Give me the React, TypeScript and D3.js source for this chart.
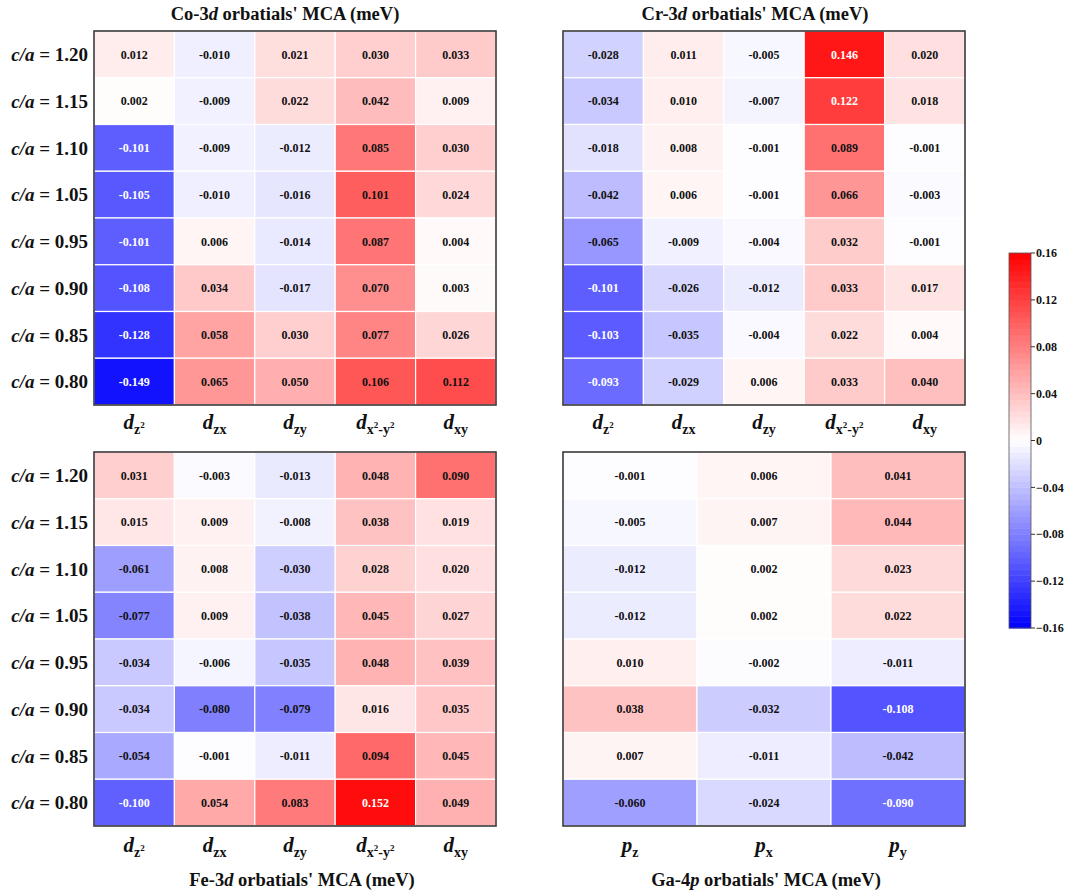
import React from "react";
import * as d3 from "d3";

const rowLabels = ["1.20", "1.15", "1.10", "1.05", "0.95", "0.90", "0.85", "0.80"];
const dOrbitals = ["z2", "zx", "zy", "x2-y2", "xy"];
const pOrbitals = ["z", "x", "y"];

const coValues = [
  [0.012, -0.010, 0.021, 0.030, 0.033],
  [0.002, -0.009, 0.022, 0.042, 0.009],
  [-0.101, -0.009, -0.012, 0.085, 0.030],
  [-0.105, -0.010, -0.016, 0.101, 0.024],
  [-0.101, 0.006, -0.014, 0.087, 0.004],
  [-0.108, 0.034, -0.017, 0.070, 0.003],
  [-0.128, 0.058, 0.030, 0.077, 0.026],
  [-0.149, 0.065, 0.050, 0.106, 0.112],
];
const crValues = [
  [-0.028, 0.011, -0.005, 0.146, 0.020],
  [-0.034, 0.010, -0.007, 0.122, 0.018],
  [-0.018, 0.008, -0.001, 0.089, -0.001],
  [-0.042, 0.006, -0.001, 0.066, -0.003],
  [-0.065, -0.009, -0.004, 0.032, -0.001],
  [-0.101, -0.026, -0.012, 0.033, 0.017],
  [-0.103, -0.035, -0.004, 0.022, 0.004],
  [-0.093, -0.029, 0.006, 0.033, 0.040],
];
const feValues = [
  [0.031, -0.003, -0.013, 0.048, 0.090],
  [0.015, 0.009, -0.008, 0.038, 0.019],
  [-0.061, 0.008, -0.030, 0.028, 0.020],
  [-0.077, 0.009, -0.038, 0.045, 0.027],
  [-0.034, -0.006, -0.035, 0.048, 0.039],
  [-0.034, -0.080, -0.079, 0.016, 0.035],
  [-0.054, -0.001, -0.011, 0.094, 0.045],
  [-0.100, 0.054, 0.083, 0.152, 0.049],
];
const gaValues = [
  [-0.001, 0.006, 0.041],
  [-0.005, 0.007, 0.044],
  [-0.012, 0.002, 0.023],
  [-0.012, 0.002, 0.022],
  [0.010, -0.002, -0.011],
  [0.038, -0.032, -0.108],
  [0.007, -0.011, -0.042],
  [-0.060, -0.024, -0.090],
];
const colorTicks = [0.16, 0.12, 0.08, 0.04, 0, -0.04, -0.08, -0.12, -0.16];
const colorDomain = [-0.16, 0.16];

const FONT = "'Liberation Serif', 'Times New Roman', serif";

// matplotlib bwr
const bwrRGB = (t: number) => {
  t = Math.max(0, Math.min(1, t));
  if (t < 0.5) return [t * 2, t * 2, 1];
  return [1, 2 - 2 * t, 2 - 2 * t];
};
const norm = d3.scaleLinear().domain(colorDomain).range([0, 1]).clamp(true);
const color = (v: number) => {
  const [r, g, b] = bwrRGB(norm(v));
  return `rgb(${Math.round(r * 255)},${Math.round(g * 255)},${Math.round(b * 255)})`;
};
const textColor = (v: number) => {
  const [r, g, b] = bwrRGB(norm(v));
  const lum = 0.299 * r + 0.587 * g + 0.114 * b;
  return lum < 0.505 ? "#ffffff" : "#111111";
};

type Panel = {
  title: string[];
  values: number[][];
  orb: string[];
  kind: "d" | "p";
  x0: number; x1: number; y0: number; y1: number;
  titleX: number; titleY: number; rowLabels: boolean; xlabY: number;
};

const panels: Panel[] = [
  { title: ["Co-3", "d", " orbatials' MCA (meV)"], values: coValues, orb: dOrbitals, kind: "d",
    x0: 94, x1: 496, y0: 31, y1: 405, titleX: 285, titleY: 20, rowLabels: true, xlabY: 429 },
  { title: ["Cr-3", "d", " orbatials' MCA (meV)"], values: crValues, orb: dOrbitals, kind: "d",
    x0: 563, x1: 965, y0: 31, y1: 405, titleX: 755, titleY: 20, rowLabels: false, xlabY: 429 },
  { title: ["Fe-3", "d", " orbatials' MCA (meV)"], values: feValues, orb: dOrbitals, kind: "d",
    x0: 94, x1: 496, y0: 452, y1: 826, titleX: 302, titleY: 886, rowLabels: true, xlabY: 852 },
  { title: ["Ga-4", "p", " orbatials' MCA (meV)"], values: gaValues, orb: pOrbitals, kind: "p",
    x0: 563, x1: 965, y0: 452, y1: 826, titleX: 766, titleY: 886, rowLabels: false, xlabY: 852 },
];

const OrbLabel = ({ kind, sub, x, y }: { kind: string; sub: string; x: number; y: number }) => {
  const main = { fontStyle: "italic" as const, fontSize: 21 };
  const s = { fontSize: 14, fontStyle: "normal" as const };
  const sup = { fontSize: 9, fontStyle: "normal" as const };
  let parts: React.ReactNode;
  if (sub === "z2") {
    parts = [
      <tspan key="a" style={main}>{kind}</tspan>,
      <tspan key="b" style={s} dy={5}>z</tspan>,
      <tspan key="c" style={sup} dy={-6}>2</tspan>,
    ];
  } else if (sub === "x2-y2") {
    parts = [
      <tspan key="a" style={main}>{kind}</tspan>,
      <tspan key="b" style={s} dy={5}>x</tspan>,
      <tspan key="c" style={sup} dy={-6}>2</tspan>,
      <tspan key="d" style={s} dy={6}>-y</tspan>,
      <tspan key="e" style={sup} dy={-6}>2</tspan>,
    ];
  } else {
    parts = [
      <tspan key="a" style={main}>{kind}</tspan>,
      <tspan key="b" style={s} dy={5}>{sub}</tspan>,
    ];
  }
  return (
    <text x={x} y={y} textAnchor="middle" fontWeight="bold" fontFamily={FONT} fill="#111">
      {parts}
    </text>
  );
};

const HeatPanel = ({ p }: { p: Panel }) => {
  const xs = d3.scaleBand<string>().domain(p.orb).range([p.x0, p.x1]);
  const ys = d3.scaleBand<string>().domain(rowLabels).range([p.y0, p.y1]);
  return (
    <g>
      {p.values.map((row, i) =>
        row.map((v, j) => (
          <g key={`${i}-${j}`}>
            <rect x={xs(p.orb[j])} y={ys(rowLabels[i])} width={xs.bandwidth()} height={ys.bandwidth()}
              fill={color(v)} stroke="#ffffff" strokeWidth={1.2} />
            <text x={(xs(p.orb[j]) as number) + xs.bandwidth() / 2} y={(ys(rowLabels[i]) as number) + ys.bandwidth() / 2}
              dy="0.35em" textAnchor="middle" fontFamily={FONT} fontWeight="bold" fontSize={12}
              fill={textColor(v)}>{v.toFixed(3)}</text>
          </g>
        ))
      )}
      <rect x={p.x0} y={p.y0} width={p.x1 - p.x0} height={p.y1 - p.y0} fill="none" stroke="#3a3a3a" strokeWidth={1.6} />
      {p.rowLabels && rowLabels.map((r) => (
        <text key={r} x={p.x0 - 6} y={(ys(r) as number) + ys.bandwidth() / 2} dy="0.35em" textAnchor="end"
          fontFamily={FONT} fontWeight="bold" fontSize={19} fill="#111">
          <tspan fontStyle="italic">c/a</tspan> = {r}
        </text>
      ))}
      {p.orb.map((o) => (
        <OrbLabel key={o} kind={p.kind} sub={o} x={(xs(o) as number) + xs.bandwidth() / 2} y={p.xlabY} />
      ))}
      <text x={p.titleX} y={p.titleY} textAnchor="middle" fontFamily={FONT} fontWeight="bold" fontSize={18.5} fill="#111">
        <tspan>{p.title[0]}</tspan><tspan fontStyle="italic">{p.title[1]}</tspan><tspan>{p.title[2]}</tspan>
      </text>
    </g>
  );
};

const ColorBar = () => {
  const x0 = 1009, x1 = 1031, y0 = 253, y1 = 628;
  const ys = d3.scaleLinear().domain(colorDomain).range([y1, y0]);
  const n = 64;
  const steps = d3.range(n).map((i) => colorDomain[0] + ((i + 0.5) / n) * (colorDomain[1] - colorDomain[0]));
  const h = (y1 - y0) / n;
  return (
    <g>
      {steps.map((v, i) => (
        <rect key={i} x={x0} y={y1 - (i + 1) * h} width={x1 - x0} height={h + 0.5} fill={color(v)} />
      ))}
      <rect x={x0} y={y0} width={x1 - x0} height={y1 - y0} fill="none" stroke="#555" strokeWidth={0.8} />
      {colorTicks.map((t) => (
        <g key={t}>
          <line x1={x1} x2={x1 + 4} y1={ys(t)} y2={ys(t)} stroke="#333" strokeWidth={1} />
          <text x={x1 + 5} y={ys(t)} dy="0.35em" fontFamily={FONT} fontWeight="bold" fontSize={12} fill="#111">
            {t === 0 ? "0" : d3.format(".2f")(t)}
          </text>
        </g>
      ))}
    </g>
  );
};

export default function App() {
  return (
    <svg width={1070} height={893} style={{ position: "absolute", left: 0, top: 0, background: "#fff" }}>
      <rect width={1070} height={893} fill="#fff" />
      {panels.map((p, i) => <HeatPanel key={i} p={p} />)}
      <ColorBar />
    </svg>
  );
}
